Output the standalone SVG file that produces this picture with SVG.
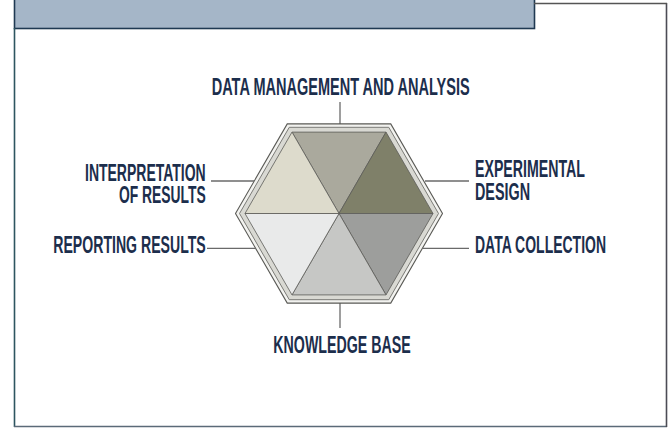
<svg xmlns="http://www.w3.org/2000/svg" width="670" height="431" viewBox="0 0 670 431">
  <style>
    .lbl { font-family: "Liberation Sans Narrow", "Liberation Sans", Arial, sans-serif; font-size: 24.5px; font-weight: bold; fill: #1c2e4c; }
    .conn { stroke: #6a6a6a; stroke-width: 1.3; fill: none; }
    .seg { stroke: #5c5c58; stroke-width: 0.8; stroke-linejoin: round; }
  </style>

  <rect x="0" y="0" width="670" height="431" fill="#ffffff"/>

  <!-- page frame -->
  <g id="frame">
    <rect x="14.5" y="-1" width="520" height="29.5" fill="#a5b6c8" stroke="#1f3952" stroke-width="1.6"/>
    <line x1="14.5" y1="28" x2="14.5" y2="427" stroke="#2d5560" stroke-width="1.6"/>
    <line x1="14" y1="426.5" x2="667" y2="426.5" stroke="#5b6a78" stroke-width="1.6"/>
    <line x1="666.5" y1="3" x2="666.5" y2="427" stroke="#4c4c55" stroke-width="1.6"/>
    <line x1="534" y1="3.5" x2="667" y2="3.5" stroke="#555" stroke-width="1.4"/>
  </g>

  <!-- connectors -->
  <g id="connectors">
    <line class="conn" x1="340" y1="102" x2="340" y2="124"/>
    <line class="conn" x1="340" y1="303" x2="340" y2="328"/>
    <line class="conn" x1="211" y1="181" x2="254" y2="181"/>
    <line class="conn" x1="207" y1="248.3" x2="255" y2="248.3"/>
    <line class="conn" x1="425" y1="181" x2="469" y2="181"/>
    <line class="conn" x1="423" y1="248.3" x2="469" y2="248.3"/>
  </g>

  <!-- central hexagon: bevelled rim and six triangular segments -->
  <g id="hexagon">
    <polygon points="235.5,213.5 287.25,123.9 390.75,123.9 442.5,213.5 390.75,303.1 287.25,303.1" fill="#f2f2ef" stroke="#5a5a56" stroke-width="1.1"/>
    <polygon points="239.5,213.5 289.25,127.3 388.75,127.3 438.5,213.5 388.75,299.7 289.25,299.7" fill="#d9d9d3" stroke="#6e6e6a" stroke-width="0.9"/>
    <polygon class="seg" points="339,213.5 292,132.1 386,132.1" fill="#aaa99d"/>
    <polygon class="seg" points="339,213.5 386,132.1 433,213.5" fill="#7f8069"/>
    <polygon class="seg" points="339,213.5 433,213.5 386,294.9" fill="#9d9e9c"/>
    <polygon class="seg" points="339,213.5 386,294.9 292,294.9" fill="#c6c7c5"/>
    <polygon class="seg" points="339,213.5 292,294.9 245,213.5" fill="#e9eaea"/>
    <polygon class="seg" points="339,213.5 245,213.5 292,132.1" fill="#dddbcc"/>
  </g>

  <g id="node-data-management">
    <text class="lbl" x="211.7" y="95" textLength="258" lengthAdjust="spacingAndGlyphs">DATA MANAGEMENT AND ANALYSIS</text>
  </g>
  <g id="node-interpretation">
    <text class="lbl" x="85" y="180.7" textLength="120.7" lengthAdjust="spacingAndGlyphs">INTERPRETATION</text>
    <text class="lbl" x="119" y="203.3" textLength="86.7" lengthAdjust="spacingAndGlyphs">OF RESULTS</text>
  </g>
  <g id="node-reporting">
    <text class="lbl" x="53.3" y="252.7" textLength="152.4" lengthAdjust="spacingAndGlyphs">REPORTING RESULTS</text>
  </g>
  <g id="node-experimental-design">
    <text class="lbl" x="475" y="177.3" textLength="110" lengthAdjust="spacingAndGlyphs">EXPERIMENTAL</text>
    <text class="lbl" x="475" y="200" textLength="55" lengthAdjust="spacingAndGlyphs">DESIGN</text>
  </g>
  <g id="node-data-collection">
    <text class="lbl" x="475" y="253.3" textLength="131" lengthAdjust="spacingAndGlyphs">DATA COLLECTION</text>
  </g>
  <g id="node-knowledge-base">
    <text class="lbl" x="273.3" y="353.3" textLength="137.4" lengthAdjust="spacingAndGlyphs">KNOWLEDGE BASE</text>
  </g>
</svg>
